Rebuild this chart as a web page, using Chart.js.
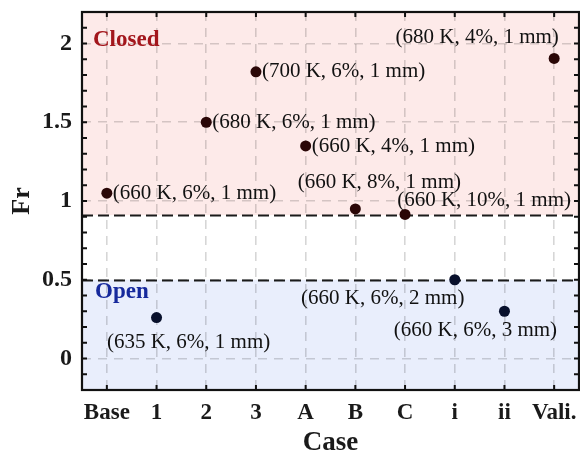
<!DOCTYPE html>
<html>
<head>
<meta charset="utf-8">
<script src="https://cdn.jsdelivr.net/npm/chart.js@4.4.0/dist/chart.umd.min.js"></script>
<style>
  html, body { margin: 0; padding: 0; background: #ffffff; }
  #wrap { width: 580px; height: 452px; }
</style>
</head>
<body>
<div id="wrap"><canvas id="frChart" width="580" height="452"></canvas></div>
<script>
// Cases and their Froude numbers
const categories = ['Base', '1', '2', '3', 'A', 'B', 'C', 'i', 'ii', 'Vali.'];
const frValues = [1.05, 0.26, 1.50, 1.82, 1.35, 0.95, 0.915, 0.50, 0.30, 1.905];
// (temperature, concentration, gap) for each case
const caseLabels = [
  '(660 K, 6%, 1 mm)', '(635 K, 6%, 1 mm)', '(680 K, 6%, 1 mm)', '(700 K, 6%, 1 mm)',
  '(660 K, 4%, 1 mm)', '(660 K, 8%, 1 mm)', '(660 K, 10%, 1 mm)', '(660 K, 6%, 2 mm)',
  '(660 K, 6%, 3 mm)', '(680 K, 4%, 1 mm)'
];
const yTickValues = [0, 0.5, 1, 1.5, 2];
const yRange = [-0.2, 2.2];
const closedThreshold = 0.91;
const openThreshold = 0.5;

// Where each case label sits relative to its marker (pixels)
const labelPlacement = [
  { dx: 6, dy: 0, align: 'left' },
  { dx: 32, dy: 25, align: 'center' },
  { dx: 6, dy: 0, align: 'left' },
  { dx: 6, dy: 0, align: 'left' },
  { dx: 6, dy: 1, align: 'left' },
  { dx: 24, dy: -26, align: 'center' },
  { dx: 79, dy: -14, align: 'center' },
  { dx: -72, dy: 19, align: 'center' },
  { dx: -29, dy: 19, align: 'center' },
  { dx: -77, dy: -21, align: 'center' }
];

const SERIF = '"Liberation Serif", "Times New Roman", serif';
const CLOSED_FILL = '#fdeae9';
const OPEN_FILL = '#e9eefc';

const regimePlugin = {
  id: 'regimes',
  beforeDraw(chart) {
    const { ctx, chartArea: a, scales: { y } } = chart;
    const yc = y.getPixelForValue(closedThreshold);
    const yo = y.getPixelForValue(openThreshold);
    ctx.save();
    ctx.fillStyle = CLOSED_FILL;
    ctx.fillRect(a.left, a.top, a.right - a.left, yc - a.top);
    ctx.fillStyle = OPEN_FILL;
    ctx.fillRect(a.left, yo, a.right - a.left, a.bottom - yo);
    ctx.restore();
  },
  beforeDatasetsDraw(chart) {
    const { ctx, chartArea: a, scales: { y } } = chart;
    ctx.save();
    ctx.strokeStyle = '#1a1a1a';
    ctx.lineWidth = 2;
    ctx.setLineDash([11, 5]);
    [closedThreshold, openThreshold].forEach(v => {
      const py = Math.round(y.getPixelForValue(v)) + 0.5;
      ctx.beginPath();
      ctx.moveTo(a.left, py);
      ctx.lineTo(a.right, py);
      ctx.stroke();
    });
    ctx.setLineDash([]);
    ctx.font = 'bold 23px ' + SERIF;
    ctx.textAlign = 'left';
    ctx.textBaseline = 'middle';
    ctx.fillStyle = '#a3161c';
    ctx.fillText('Closed', a.left + 11, y.getPixelForValue(2.025));
    ctx.fillStyle = '#16299c';
    ctx.fillText('Open', a.left + 13, y.getPixelForValue(0.42));
    ctx.restore();
  },
  afterDatasetsDraw(chart) {
    const { ctx } = chart;
    const meta = chart.getDatasetMeta(0);
    ctx.save();
    ctx.font = '21px ' + SERIF;
    ctx.fillStyle = '#111111';
    ctx.textBaseline = 'middle';
    meta.data.forEach((pt, i) => {
      const p = labelPlacement[i];
      ctx.textAlign = p.align;
      ctx.fillText(caseLabels[i], pt.x + p.dx, pt.y + p.dy);
    });
    ctx.restore();
  },
  afterDraw(chart) {
    const { ctx, chartArea: a, scales: { x, y } } = chart;
    ctx.save();
    ctx.strokeStyle = '#111111';
    ctx.lineWidth = 2;
    const len = 5;
    // inward ticks on left/right every 0.1
    for (let k = -1; k <= 21; k++) {
      const py = y.getPixelForValue(k / 10);
      ctx.beginPath();
      ctx.moveTo(a.left, py); ctx.lineTo(a.left + len, py);
      ctx.moveTo(a.right, py); ctx.lineTo(a.right - len, py);
      ctx.stroke();
    }
    // inward ticks on top/bottom at each case
    categories.forEach((c, i) => {
      const px = x.getPixelForValue(i);
      ctx.beginPath();
      ctx.moveTo(px, a.top); ctx.lineTo(px, a.top + len);
      ctx.moveTo(px, a.bottom); ctx.lineTo(px, a.bottom - len);
      ctx.stroke();
    });
    ctx.lineWidth = 2.2;
    ctx.strokeRect(a.left, a.top, a.right - a.left, a.bottom - a.top);
    ctx.restore();
  }
};

const pointColors = frValues.map(v => v > openThreshold ? '#2a0707' : '#08102c');

new Chart(document.getElementById('frChart'), {
  type: 'line',
  data: {
    labels: categories,
    datasets: [{
      data: frValues,
      showLine: false,
      pointRadius: 5.5,
      pointHoverRadius: 5.5,
      pointBackgroundColor: pointColors,
      pointBorderWidth: 0,
      borderColor: 'transparent'
    }]
  },
  options: {
    responsive: false,
    animation: false,
    events: [],
    layout: { autoPadding: false, padding: { top: 12, right: 1, left: 0, bottom: 0 } },
    plugins: { legend: { display: false }, tooltip: { enabled: false } },
    scales: {
      x: {
        type: 'category',
        offset: true,
        grid: { color: 'rgba(0,0,0,0.16)', lineWidth: 1.6, drawTicks: false },
        border: { display: false, dash: [9, 7] },
        ticks: {
          color: '#1a1a1a',
          font: { family: SERIF, size: 23, weight: 'bold' },
          padding: 9,
          maxRotation: 0,
          autoSkip: false
        },
        title: {
          display: true,
          text: 'Case',
          color: '#1a1a1a',
          font: { family: SERIF, size: 27, weight: 'bold', lineHeight: 0.7 },
          padding: 0
        },
        afterFit(s) {
          s.height = 62;
          s.paddingLeft = 0;
          s.paddingRight = 0;
        }
      },
      y: {
        min: yRange[0],
        max: yRange[1],
        afterBuildTicks(s) { s.ticks = yTickValues.map(v => ({ value: v })); },
        grid: { color: 'rgba(0,0,0,0.16)', lineWidth: 1.6, drawTicks: false },
        border: { display: false, dash: [9, 7] },
        ticks: {
          color: '#1a1a1a',
          font: { family: SERIF, size: 24, weight: 'bold' },
          padding: 10,
          callback: v => String(v)
        },
        title: {
          display: true,
          text: 'Fr',
          color: '#1a1a1a',
          font: { family: SERIF, size: 26, weight: 'bold', lineHeight: 1 },
          padding: { top: 9, bottom: 0 }
        },
        afterFit(s) {
          s.width = 82;
          s.paddingTop = 0;
          s.paddingBottom = 0;
        }
      }
    }
  },
  plugins: [regimePlugin]
});
</script>
</body>
</html>
